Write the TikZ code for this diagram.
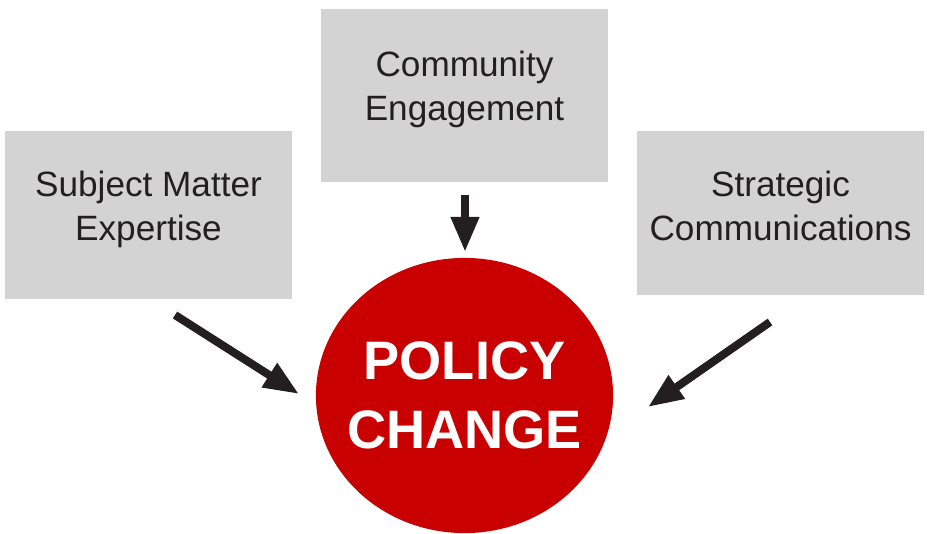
\documentclass[tikz,border=0pt]{standalone}
\usepackage{fontspec}
\setmainfont{Liberation Sans}
\usetikzlibrary{arrows.meta,shapes.geometric}
\definecolor{boxgray}{HTML}{D3D3D3}
\definecolor{policyred}{HTML}{C80000}
\definecolor{inkdark}{HTML}{231F20}

\begin{document}
\begin{tikzpicture}[x=0.01cm,
			y=-0.01cm,
			area/.style={
				rectangle,
				fill=boxgray,
				inner sep=0mm,
				minimum width=2.87cm},
			areatext/.style={
				text=inkdark,
				align=center,
				inner sep=0mm,
				yshift=1.7pt,
				font=\fontsize{10}{12.5}\selectfont},
			goal/.style={
				ellipse,
				fill=policyred,
				text=white,
				align=center,
				inner sep=0mm,
				inner xsep=-0.3cm,
				minimum width=2.97cm,
				minimum height=2.75cm,
				font=\fontsize{15.4}{19.6}\selectfont\bfseries},
			push/.style={
				draw=inkdark,
				line width=2.3pt,
				-{Triangle[length=10pt, width=7.6pt]}}]
			\useasboundingbox (0, 0) rectangle (927, 533);
			\node[area, minimum height=1.68cm] (sme) at (148.5, 215) {};
			\node[area, minimum height=1.73cm] (ce) at (464.5, 95.5) {};
			\node[area, minimum height=1.64cm] (sc) at (780.5, 213) {};
			\node[areatext] (sme-text) at (148.5, 215) {Subject Matter\\Expertise};
			\node[areatext] (ce-text) at (ce) {Community\\Engagement};
			\node[areatext] (sc-text) at (780.5, 212) {Strategic\\Communications};
			\node[goal] (policy) at (464.5, 395.5) {POLICY\\CHANGE};
			% arrow ends
			\coordinate (sme-out) at (175, 315);
			\coordinate (sme-in) at (299, 394);
			\coordinate (ce-out) at (465, 195);
			\coordinate (ce-in) at (465, 252);
			\coordinate (sc-out) at (770, 322);
			\coordinate (sc-in) at (648, 407);
			\foreach \from/\to in {sme-out/sme-in, ce-out/ce-in, sc-out/sc-in}
				\draw[push] (\from) -- (\to);
\end{tikzpicture}
\end{document}
